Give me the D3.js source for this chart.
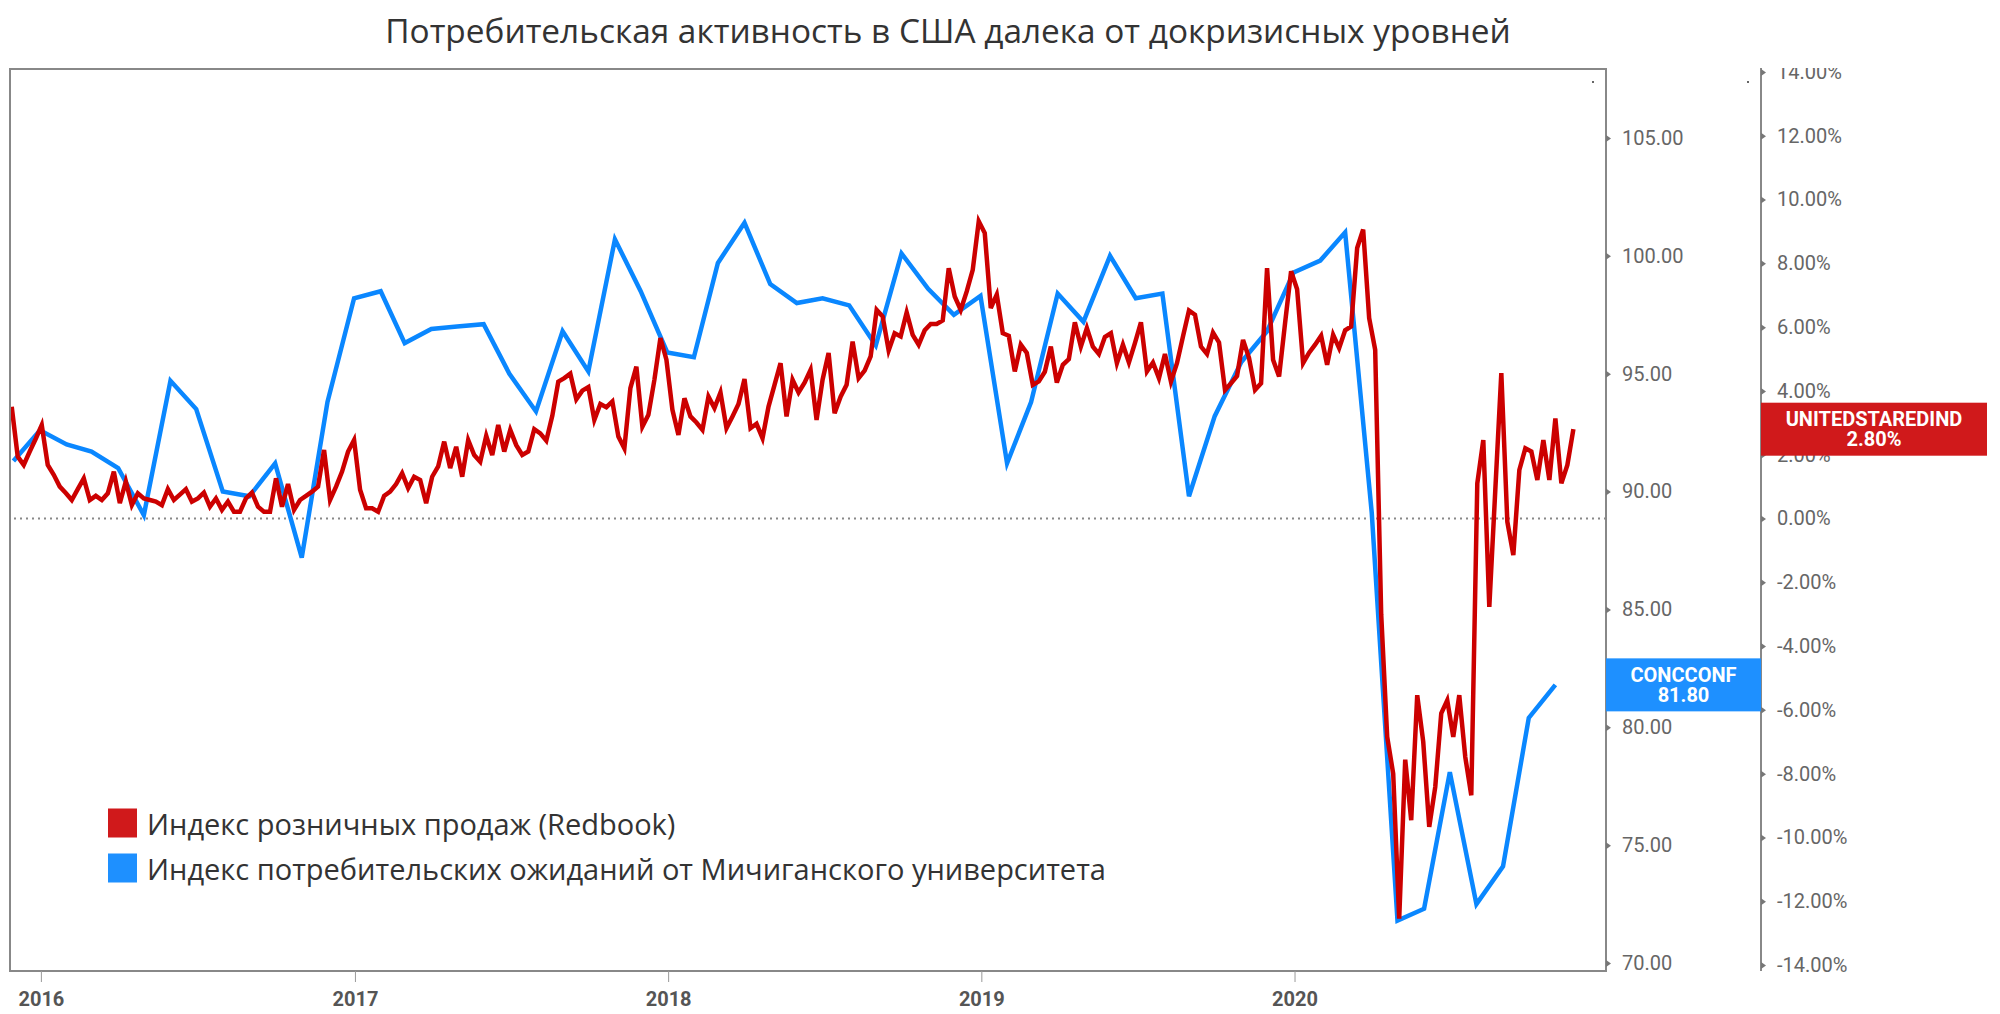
<!DOCTYPE html>
<html><head><meta charset="utf-8">
<script src="https://cdn.jsdelivr.net/npm/d3@7"></script>
<style>body{margin:0;background:#fff;} svg{display:block;}</style>
</head><body><svg id="c" width="2000" height="1014"></svg>
<script>
const titleText = "Потребительская активность в США далека от докризисных уровней";
const yearTicks = [2016, 2017, 2018, 2019, 2020];
const leftTicks = [70, 75, 80, 85, 90, 95, 100, 105];
const rightTicks = [-14, -12, -10, -8, -6, -4, -2, 0, 2, 4, 6, 8, 10, 12, 14];
const redName = "UNITEDSTAREDIND";
const blueName = "CONCCONF";
const legendLabels = ["Индекс розничных продаж (Redbook)", "Индекс потребительских ожиданий от Мичиганского университета"];

// Redbook weekly YoY %, weeks ending Saturday, from 2015-11-28
const redStart = [2015, 10, 28];
const redValues = [
  3.5, 1.94, 1.68, 2.1, 2.5,
  2.93, 1.68, 1.37, 1.0, 0.8, 0.58, 0.92, 1.26, 0.58, 0.71,
  0.58, 0.79, 1.47, 0.48, 1.16, 0.42, 0.79, 0.63, 0.58, 0.53,
  0.42, 0.92, 0.58, 0.75, 0.92, 0.53, 0.63, 0.81, 0.37, 0.63,
  0.27, 0.53, 0.21, 0.21, 0.63, 0.81, 0.37, 0.21, 0.21, 1.26,
  0.37, 1.08, 0.27, 0.58, 0.71, 0.84, 1.0, 2.15, 0.58, 1.0,
  1.47, 2.1, 2.46, 0.9, 0.32, 0.32, 0.21, 0.71, 0.84, 1.08,
  1.42, 0.95, 1.31, 1.21, 0.48, 1.31, 1.63, 2.41, 1.58, 2.25,
  1.31, 2.46, 1.99, 1.78, 2.59, 1.99, 2.93, 2.1, 2.78, 2.3,
  1.99, 2.1, 2.8, 2.67, 2.44, 3.22, 4.29, 4.4, 4.54, 3.74,
  4.01, 4.12, 3.09, 3.59, 3.49, 3.67, 2.57, 2.2, 4.09, 4.76,
  2.88, 3.25, 4.35, 5.66, 4.98, 3.41, 2.62, 3.77, 3.2, 3.01,
  2.78, 3.82, 3.46, 3.95, 2.83, 3.2, 3.59, 4.37, 2.83, 2.97,
  2.52, 3.51, 4.19, 4.87, 3.2, 4.35, 3.95, 4.26, 4.66, 3.09,
  4.35, 5.19, 3.3, 3.82, 4.19, 5.55, 4.4, 4.64, 5.08, 6.54,
  6.33, 5.27, 5.81, 5.71, 6.46, 5.76, 5.45, 5.9, 6.1, 6.1,
  6.21, 7.85, 6.96, 6.54, 7.12, 7.8, 9.32, 8.95, 6.6, 7.02,
  5.81, 5.73, 4.61, 5.45, 5.19, 4.19, 4.3, 4.6, 5.39, 4.26,
  4.82, 5.0, 6.15, 5.39, 5.97, 5.39, 5.16, 5.69, 5.81, 4.87,
  5.45, 4.89, 5.5, 6.15, 4.61, 4.89, 4.4, 5.16, 4.29, 4.87,
  5.71, 6.52, 6.39, 5.39, 5.16, 5.83, 5.52, 4.03, 4.24, 4.47,
  5.6, 5.03, 4.03, 4.24, 7.85, 4.98, 4.45, 6.13, 7.75, 7.19,
  4.87, 5.2, 5.45, 5.73, 4.82, 5.76, 5.34, 5.9, 6.02, 8.48,
  9.06, 6.28, 5.29, -3.0, -6.85, -8.0, -12.55, -7.56, -9.46, -5.54,
  -7.0, -9.67, -8.42, -6.11, -5.7, -6.85, -5.54, -7.48, -8.68, 1.1,
  2.46, -2.77, 0.9, 4.56, -0.1, -1.15, 1.52, 2.2, 2.1, 1.21,
  2.46, 1.21, 3.14, 1.1, 1.68, 2.8
];

// Michigan consumer sentiment, monthly, Nov 2015 .. Oct 2020 (plotted at month end)
const blueStart = [2015, 10];
const blueValues = [
  91.3, 92.6,
  92.0, 91.7, 91.0, 89.0, 94.7, 93.5, 90.0, 89.8, 91.2, 87.2, 93.8, 98.2,
  98.5, 96.3, 96.9, 97.0, 97.1, 95.0, 93.4, 96.8, 95.1, 100.7, 98.5, 95.9,
  95.7, 99.7, 101.4, 98.8, 98.0, 98.2, 97.9, 96.2, 100.1, 98.6, 97.5, 98.3,
  91.2, 93.8, 98.4, 97.2, 100.0, 98.2, 98.4, 89.8, 93.2, 95.5, 96.8, 99.3,
  99.8, 101.0, 89.1, 71.8, 72.3, 78.1, 72.5, 74.1, 80.4, 81.8
];

const RED = "#cc0000", BLUE = "#0a87ff";
const RED_BOX = "#d0191b", BLUE_BOX = "#1e90ff";
const L = 10, R = 1606, T = 69, B = 971, AX2 = 1761;

const svg = d3.select("#c");
const x = d3.scaleTime().domain([new Date(2015, 10, 26), new Date(2020, 11, 29)]).range([L, R]);
const yL = d3.scaleLinear().domain([70, 105]).range([963, 138]);
const yR = d3.scaleLinear().domain([-14, 14]).range([965, 72]);

const redStartDate = new Date(redStart[0], redStart[1], redStart[2]);
const redData = redValues.map((v, i) => ({d: d3.timeDay.offset(redStartDate, 7 * i), v}));
const blueStartDate = new Date(blueStart[0], blueStart[1], 1);
const blueData = blueValues.map((v, i) => ({d: d3.timeDay.offset(d3.timeMonth.offset(blueStartDate, i + 1), -1), v}));

// title
svg.append("text").attr("x", 948).attr("y", 43).attr("text-anchor", "middle")
  .style("font-family", "'Open Sans'").style("font-size", "33.4px").style("font-weight", "500").style("fill", "#333")
  .text(titleText);

// clip
svg.append("clipPath").attr("id", "plotclip").append("rect")
  .attr("x", L).attr("y", T).attr("width", R - L).attr("height", B - T);
svg.append("clipPath").attr("id", "axclip").append("rect")
  .attr("x", 0).attr("y", T - 1).attr("width", 2000).attr("height", 1014);

// zero dotted line
svg.append("line").attr("x1", L + 4).attr("x2", R).attr("y1", yR(0)).attr("y2", yR(0))
  .attr("stroke", "#888").attr("stroke-width", 2).attr("stroke-dasharray", "2,4");

// lines
const g = svg.append("g").attr("clip-path", "url(#plotclip)");
g.append("path").datum(blueData)
  .attr("d", d3.line().x(d => x(d.d)).y(d => yL(d.v)))
  .attr("fill", "none").attr("stroke", BLUE).attr("stroke-width", 4.5).attr("stroke-linejoin", "miter");
g.append("path").datum(redData)
  .attr("d", d3.line().x(d => x(d.d)).y(d => yR(d.v)))
  .attr("fill", "none").attr("stroke", RED).attr("stroke-width", 4.5).attr("stroke-linejoin", "miter");

// frame
svg.append("rect").attr("x", L).attr("y", T).attr("width", R - L).attr("height", B - T)
  .attr("fill", "none").attr("stroke", "#888").attr("stroke-width", 2);

// x axis
const xa = svg.append("g").attr("transform", `translate(0,${B})`)
  .call(d3.axisBottom(x).tickValues(yearTicks.map(y => new Date(y, 0, 1)))
    .tickFormat(d3.timeFormat("%Y")).tickSize(11).tickPadding(10));
xa.select(".domain").remove();
xa.selectAll(".tick line").attr("stroke", "#999").attr("stroke-width", 1);
xa.selectAll(".tick text").style("font-family", "Roboto").style("font-size", "20px")
  .style("font-weight", "bold").style("fill", "#555");

// y axes
function triTicks(sel) {
  sel.selectAll(".tick").append("path").attr("d", "M0,-3.5L5,0L0,3.5Z").attr("fill", "#777");
}
const ya1 = svg.append("g").attr("transform", `translate(${R},0)`)
  .call(d3.axisRight(yL).tickValues(leftTicks).tickSize(0).tickPadding(16).tickFormat(d => d.toFixed(2)));
ya1.select(".domain").remove();
triTicks(ya1);
ya1.selectAll(".tick text").style("font-family", "Roboto").style("font-size", "20px").style("fill", "#666");

svg.append("line").attr("x1", AX2).attr("x2", AX2).attr("y1", T - 1).attr("y2", B)
  .attr("stroke", "#888").attr("stroke-width", 2);
const ya2 = svg.append("g").attr("transform", `translate(${AX2},0)`).attr("clip-path", "url(#axclip)")
  .call(d3.axisRight(yR).tickValues(rightTicks).tickSize(0).tickPadding(16).tickFormat(d => d.toFixed(2) + "%"));
ya2.select(".domain").remove();
triTicks(ya2);
ya2.selectAll(".tick text").style("font-family", "Roboto").style("font-size", "20px").style("fill", "#666");

// tiny dots near top
svg.append("circle").attr("cx", 1593).attr("cy", 82).attr("r", 1).attr("fill", "#333");
svg.append("circle").attr("cx", 1748).attr("cy", 82).attr("r", 1).attr("fill", "#333");

// value boxes
function valueBox(x0, x1, yc, fill, name, val) {
  const h = 53;
  svg.append("rect").attr("x", x0).attr("y", yc - h / 2).attr("width", x1 - x0).attr("height", h)
    .attr("fill", fill);
  const cx = (x0 + x1) / 2;
  svg.append("text").attr("x", cx).attr("y", yc - 10).attr("text-anchor", "middle").attr("dominant-baseline", "central")
    .style("font-family", "Roboto").style("font-weight", "bold").style("font-size", "20px").style("fill", "#fff").text(name);
  svg.append("text").attr("x", cx).attr("y", yc + 10).attr("text-anchor", "middle").attr("dominant-baseline", "central")
    .style("font-family", "Roboto").style("font-weight", "bold").style("font-size", "20px").style("fill", "#fff").text(val);
}
const lastRed = redValues[redValues.length - 1];
const lastBlue = blueValues[blueValues.length - 1];
valueBox(AX2, 1987, yR(lastRed), RED_BOX, redName, lastRed.toFixed(2) + "%");
valueBox(R, AX2, yL(lastBlue), BLUE_BOX, blueName, lastBlue.toFixed(2));

// legend
const leg = svg.append("g");
[RED_BOX, BLUE_BOX].forEach((c, i) => {
  const yc = 823 + i * 45;
  leg.append("rect").attr("x", 108).attr("y", yc - 14.5).attr("width", 29).attr("height", 29).attr("fill", c);
  leg.append("text").attr("x", 147).attr("y", yc).attr("dominant-baseline", "central")
    .style("font-family", "'Open Sans'").style("font-size", "29px").style("fill", "#333").text(legendLabels[i]);
});
</script></body></html>
